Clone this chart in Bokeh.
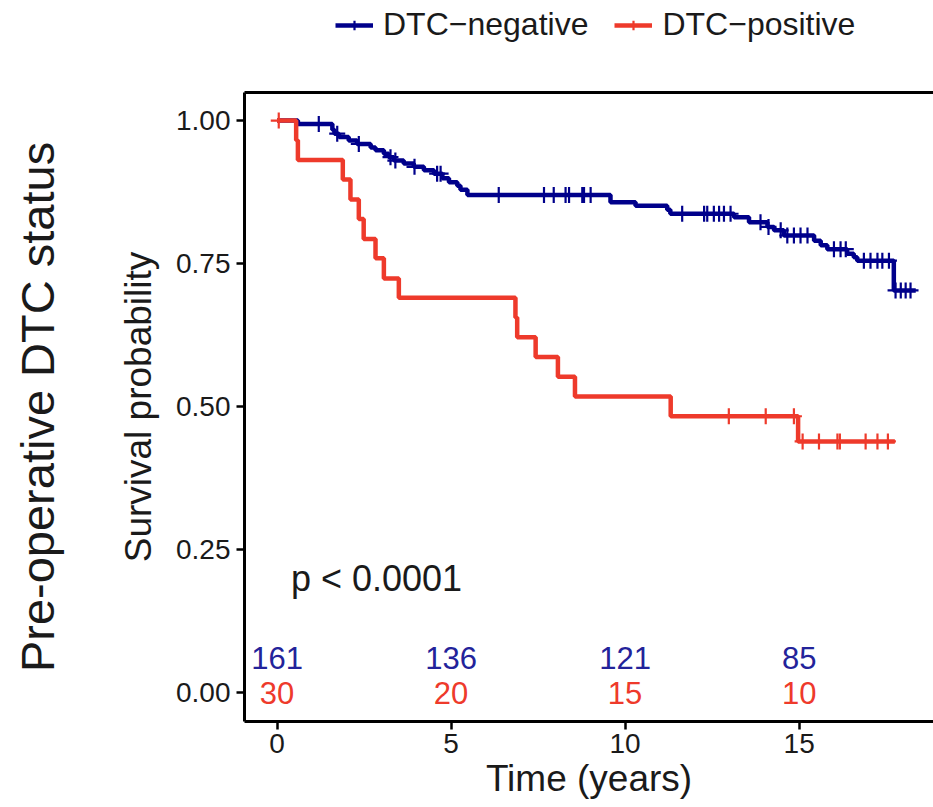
import numpy as np
from bokeh.plotting import figure
from bokeh.layouts import column
from bokeh.models import (Range1d, LinearAxis, FixedTicker, Legend, LegendItem,
                          NumeralTickFormatter)
from bokeh.core.properties import value
from bokeh.embed import file_html
from bokeh.resources import INLINE

# ---------------- data ----------------
groups = ["DTC\u2212negative", "DTC\u2212positive"]

neg_event_t = [0.60, 1.59, 1.65, 1.78, 2.06, 2.30, 2.69, 2.83, 3.07, 3.21, 3.36, 3.64,
               3.93, 4.22, 4.51, 4.75, 4.94, 5.18, 5.27, 5.47, 9.58, 10.30, 11.21,
               11.30, 13.13, 13.56, 14.09, 14.28, 14.56, 15.43, 15.62, 15.81, 16.38,
               16.57, 16.67, 17.72]
neg_event_s = [0.994, 0.984, 0.977, 0.971, 0.965, 0.959, 0.953, 0.948, 0.942, 0.936,
               0.930, 0.925, 0.919, 0.913, 0.907, 0.899, 0.892, 0.886, 0.879, 0.870,
               0.857, 0.851, 0.844, 0.837, 0.831, 0.822, 0.814, 0.808, 0.799, 0.790,
               0.782, 0.775, 0.767, 0.761, 0.755, 0.703]
neg_end = 18.35
neg_censor_t = [1.20, 1.73, 2.35, 3.26, 3.40, 3.95, 4.60, 4.70, 6.37, 7.67, 7.95, 8.29,
                8.39, 8.77, 8.82, 9.01, 11.64, 12.27, 12.36, 12.55, 12.70, 12.84,
                13.03, 13.89, 14.12, 14.47, 14.66, 14.85, 15.04, 15.24, 16.00, 16.19,
                16.34, 16.86, 17.05, 17.25, 17.39, 17.58, 17.77, 17.92, 18.06, 18.20]

pos_event_t = [0.55, 0.60, 1.89, 2.11, 2.35, 2.49, 2.83, 3.07, 3.50, 6.85, 6.90, 7.43,
               8.07, 8.56, 11.31, 14.97]
pos_event_s = [0.9655, 0.931, 0.897, 0.862, 0.828, 0.793, 0.759, 0.724, 0.690, 0.6555,
               0.621, 0.5865, 0.552, 0.5175, 0.483, 0.439]
pos_end = 17.75
pos_censor_t = [0.05, 12.98, 14.04, 14.85, 15.10, 15.57, 16.10, 16.17, 16.91, 17.25, 17.55]

risk_times = [0, 5, 10, 15]
neg_risk = [161, 136, 121, 85]
pos_risk = [30, 20, 15, 10]

x_ticks = [0, 5, 10, 15]
y_ticks = [0.0, 0.25, 0.50, 0.75, 1.0]
pval_text = "p < 0.0001"
x_title = "Time (years)"
y_title = "Survival probability"
outer_title = "Pre-operative DTC status"

# ---------------- styling ----------------
BLUE = "#00008B"
RED = "#EE3A2B"
BLUE_TXT = "#23239A"
FONT = "Liberation Sans"
TXT = "#1a1a1a"
LINE_W = 4.5
CROSS_SIZE = 16
CROSS_W = 2.2
LEG_H = 60


def step_xy(ev_t, ev_s, end):
    xs = [0.0] + list(ev_t) + [end]
    ys = [1.0] + list(ev_s) + [ev_s[-1]]
    return xs, ys


def surv_at(ts, ev_t, ev_s):
    ev_t = np.asarray(ev_t)
    ev_s = np.asarray(ev_s)
    out = []
    for t in ts:
        idx = np.searchsorted(ev_t, t, side="right") - 1
        out.append(1.0 if idx < 0 else float(ev_s[idx]))
    return out


p = figure(width=933, height=807 - LEG_H, output_backend="svg", toolbar_location=None,
           x_range=Range1d(-0.934, 18.86), y_range=Range1d(-0.0507, 1.049),
           min_border_left=244, min_border_top=92 - LEG_H, min_border_bottom=86,
           min_border_right=0)
p.xgrid.visible = False
p.ygrid.visible = False
p.outline_line_color = None
p.background_fill_color = "white"

colors = {groups[0]: BLUE, groups[1]: RED}
for name, ev_t, ev_s, end, cens in [
        (groups[0], neg_event_t, neg_event_s, neg_end, neg_censor_t),
        (groups[1], pos_event_t, pos_event_s, pos_end, pos_censor_t)]:
    col = colors[name]
    xs, ys = step_xy(ev_t, ev_s, end)
    p.step(xs, ys, mode="after", line_color=col, line_width=LINE_W)
    cs = surv_at(cens, ev_t, ev_s)
    p.scatter(cens, cs, marker="cross", size=CROSS_SIZE, line_color=col, line_width=CROSS_W)

# numbers at risk inside the panel
p.text(x=risk_times, y=[0.061] * len(risk_times), text=[str(v) for v in neg_risk],
       text_color=BLUE_TXT, text_font=value(FONT), text_font_size="31px",
       text_align="center", text_baseline="middle")
p.text(x=risk_times, y=[0.0] * len(risk_times), text=[str(v) for v in pos_risk],
       text_color=RED, text_font=value(FONT), text_font_size="31px",
       text_align="center", text_baseline="middle")

# p-value
p.text(x=[0.4], y=[0.2], text=[pval_text], text_color=TXT, text_font=value(FONT),
       text_font_size="36px", text_align="left", text_baseline="middle")

# axes
for ax in (p.xaxis[0], p.yaxis[0]):
    ax.axis_line_width = 3
    ax.axis_line_color = "black"
    ax.major_tick_line_width = 2.5
    ax.major_tick_line_color = "black"
    ax.major_tick_out = 8
    ax.major_tick_in = 0
    ax.minor_tick_line_color = None
    ax.major_label_text_font = FONT
    ax.major_label_text_font_size = "28px"
    ax.major_label_text_color = TXT
    ax.axis_label_text_font = FONT
    ax.axis_label_text_font_size = "37px"
    ax.axis_label_text_font_style = "normal"
    ax.axis_label_text_color = TXT

p.xaxis[0].ticker = FixedTicker(ticks=x_ticks)
p.xaxis[0].axis_label = x_title
p.xaxis[0].major_label_standoff = 4
p.xaxis[0].axis_label_standoff = 2
p.yaxis[0].ticker = FixedTicker(ticks=y_ticks)
p.yaxis[0].formatter = NumeralTickFormatter(format="0.00")
p.yaxis[0].axis_label = y_title
p.yaxis[0].major_label_standoff = 6
p.yaxis[0].axis_label_standoff = 14

# outer label as an extra, bare left axis
outer = LinearAxis(axis_label=outer_title, ticker=FixedTicker(ticks=[]),
                   axis_line_color=None, major_tick_line_color=None,
                   minor_tick_line_color=None, major_label_text_font_size="0px",
                   axis_label_text_font=FONT, axis_label_text_font_size="47px",
                   axis_label_text_font_style="normal", axis_label_text_color=TXT,
                   axis_label_standoff=52)
p.add_layout(outer, "left")

# top border line
top = LinearAxis(ticker=FixedTicker(ticks=[]), axis_line_color="black", axis_line_width=3,
                 major_tick_line_color=None, minor_tick_line_color=None,
                 major_label_text_font_size="0px")
p.add_layout(top, "above")

# ---------------- legend strip above the panel ----------------
lg = figure(width=933, height=LEG_H, output_backend="svg", toolbar_location=None,
            x_range=Range1d(0, 1), y_range=Range1d(0, 1),
            x_axis_location=None, y_axis_location=None,
            min_border_left=244, min_border_right=0,
            min_border_top=0, min_border_bottom=0)
lg.xgrid.visible = False
lg.ygrid.visible = False
lg.outline_line_color = None

# legend key glyphs (their one point lies outside the strip's range, so only the key shows)
items = []
for g in groups:
    rl = lg.line([-5, -4], [-5, -5], line_color=colors[g], line_width=LINE_W)
    rc = lg.scatter([-5], [-5], marker="cross", size=CROSS_SIZE, line_color=colors[g],
                    line_width=CROSS_W)
    items.append(LegendItem(label=g, renderers=[rl, rc]))

legend = Legend(items=items, orientation="horizontal", location=(335 - 244, 17),
                label_text_font=FONT, label_text_font_size="32px",
                label_text_color=TXT, glyph_width=38, glyph_height=24,
                label_standoff=10, spacing=26, padding=0, margin=0,
                border_line_color=None, background_fill_alpha=0)
lg.add_layout(legend, "center")

layout = column(lg, p, spacing=0)
open("out.html", "w").write(file_html(layout, INLINE))
